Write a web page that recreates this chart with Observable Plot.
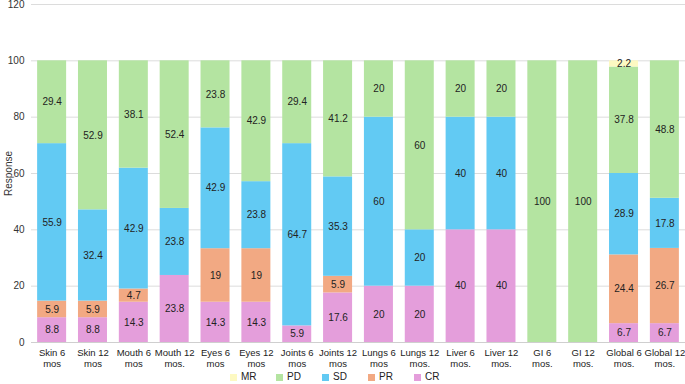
<!DOCTYPE html>
<html><head><meta charset="utf-8">
<script src="https://cdn.jsdelivr.net/npm/d3@7"></script>
<script src="https://cdn.jsdelivr.net/npm/@observablehq/plot@0.6"></script>
<style>
body{margin:0;background:#fff;font-family:"Liberation Sans",Arial,Helvetica,sans-serif}
#legend{display:flex;margin-left:230px;height:12px;margin-top:1px;font-size:10px;color:#222;line-height:12px}
#legend .item{display:flex;align-items:center;width:46px}
#legend .sw{width:7px;height:7px;margin-right:4px}
</style>
</head><body><div id="chart"></div><div id="legend"></div>
<script>
const categories = ["Skin 6 mos","Skin 12 mos","Mouth 6 mos","Mouth 12 mos.","Eyes 6 mos","Eyes 12 mos","Joints 6 mos","Joints 12 mos","Lungs 6 mos","Lungs 12 mos.","Liver 6 mos.","Liver 12 mos.","GI 6 mos.","GI 12 mos.","Global 6 mos.","Global 12 mos."];
const seriesNames = ["CR","PR","SD","PD","MR"];
const CR = [8.8,8.8,14.3,23.8,14.3,14.3,5.9,17.6,20,20,40,40,0,0,6.7,6.7];
const PR = [5.9,5.9,4.7,0,19,19,0,5.9,0,0,0,0,0,0,24.4,26.7];
const SD = [55.9,32.4,42.9,23.8,42.9,23.8,64.7,35.3,60,20,40,40,0,0,28.9,17.8];
const PD = [29.4,52.9,38.1,52.4,23.8,42.9,29.4,41.2,20,60,20,20,100,100,37.8,48.8];
const MR = [0,0,0,0,0,0,0,0,0,0,0,0,0,0,2.2,0];
const colors = ["#e49edb","#f2a983","#62caf3","#b4e4a1","#fdf9c2"];
const legendOrder = ["MR","PD","SD","PR","CR"];
const yTicks = [0,20,40,60,80,100,120];

const seriesValues = {CR, PR, SD, PD, MR};
const data = [];
seriesNames.forEach(s => categories.forEach((c, i) => {
  const v = seriesValues[s][i];
  if (v > 0) data.push({cat: c, series: s, value: v});
}));

const wrap = c => { const k = c.lastIndexOf(" "); return c.slice(0, k) + "\n" + c.slice(k + 1); };

const chart = Plot.plot({
  width: 685, height: 370,
  marginLeft: 31, marginRight: 0, marginTop: 4, marginBottom: 28,
  style: {fontFamily: '"Liberation Sans",Arial,Helvetica,sans-serif', fontSize: "10px", color: "#222"},
  x: {domain: categories, paddingInner: 0.29, paddingOuter: 0.15, round: false, label: null},
  y: {domain: [0,120], label: "Response"},
  color: {domain: seriesNames, range: colors},
  marks: [
    Plot.gridY(yTicks, {stroke: "#dcdcdc", strokeOpacity: 1}),
    Plot.ruleY([0], {stroke: "#cfcfcf"}),
    Plot.axisY(yTicks, {tickSize: 0, tickPadding: 7, label: "Response", labelAnchor: "center", labelArrow: "none", labelOffset: 27, fill: "#333"}),
    Plot.axisX({tickSize: 0, tickPadding: 6, tickFormat: wrap, lineHeight: 1.15, fontSize: 9.5, fill: "#222", label: null}),
    Plot.barY(data, Plot.stackY({x: "cat", y: "value", fill: "series", order: seriesNames})),
    Plot.text(data, Plot.stackY({x: "cat", y: "value", z: "series", order: seriesNames, text: d => String(d.value), fill: "#222", fontSize: 10}))
  ]
});
document.getElementById("chart").appendChild(chart);

const lg = document.getElementById("legend");
legendOrder.forEach(s => {
  const it = document.createElement("div"); it.className = "item";
  const sw = document.createElement("span"); sw.className = "sw"; sw.style.background = colors[seriesNames.indexOf(s)];
  const t = document.createElement("span"); t.textContent = s;
  it.appendChild(sw); it.appendChild(t); lg.appendChild(it);
});
</script>
</body></html>
